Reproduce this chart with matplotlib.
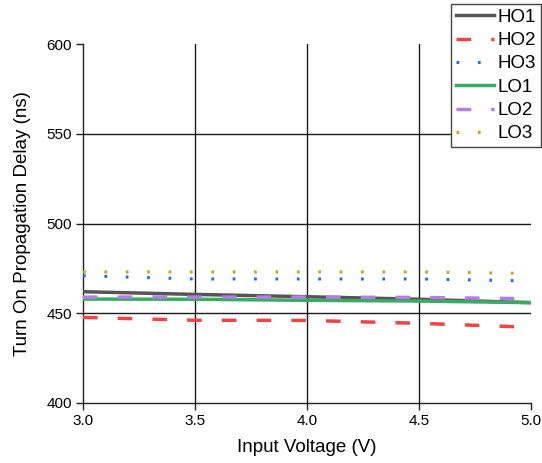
import matplotlib
matplotlib.use('Agg')
import matplotlib.pyplot as plt

plt.rcParams['font.family'] = ['Liberation Sans', 'DejaVu Sans']

# input voltage (V)
voltage = [3.0, 3.5, 4.0, 4.5, 5.0]

# turn on propagation delay (ns)
ho1 = [462.0, 460.5, 459.2, 457.8, 455.9]
ho2 = [447.7, 446.1, 446.0, 444.4, 442.2]
ho3 = [470.9, 469.1, 469.1, 469.1, 468.0]
lo1 = [457.9, 457.8, 457.2, 456.8, 455.9]
lo2 = [459.0, 459.0, 459.0, 458.8, 458.1]
lo3 = [473.0, 473.0, 473.0, 473.0, 472.2]

x_ticks = [3.0, 3.5, 4.0, 4.5, 5.0]
y_ticks = [400, 450, 500, 550, 600]

fig = plt.figure(figsize=(5.42, 4.63), dpi=100)
ax = fig.add_axes([83 / 542, 1 - 403 / 463, 448 / 542, 359 / 463])

# grid lines (inner only)
for xv in x_ticks[1:-1]:
    ax.axvline(xv, color='#1a1a1a', lw=1.0, zorder=1)
for yv in y_ticks[1:-1]:
    ax.axhline(yv, color='#1a1a1a', lw=1.0, zorder=1)

lw = 2.5
ax.plot(voltage, ho1, color='#555555', lw=lw, label='HO1', zorder=3)
ax.plot(voltage, ho2, color='#ee4444', lw=lw, dashes=(4.2, 5.8), label='HO2', zorder=3)
ax.plot(voltage, ho3, color='#1f6fe0', lw=2.2, dashes=(0.9, 6.1), label='HO3', zorder=3)
ax.plot(voltage, lo1, color='#3aaa64', lw=lw, label='LO1', zorder=3)
ax.plot(voltage, lo2, color='#b47ee6', lw=lw, dashes=(4.2, 5.8), label='LO2', zorder=3)
ax.plot(voltage, lo3, color='#d4a012', lw=2.2, dashes=(0.9, 6.1), label='LO3', zorder=3)

ax.set_xlim(3.0, 5.0)
ax.set_ylim(400, 600)
ax.set_xticks(x_ticks)
ax.set_xticklabels(['3.0', '3.5', '4.0', '4.5', '5.0'])
ax.set_yticks(y_ticks)
ax.tick_params(direction='out', length=5, width=1, labelsize=11, pad=3, color='#222222')

for s in ['top', 'right']:
    ax.spines[s].set_visible(False)
for s in ['left', 'bottom']:
    ax.spines[s].set_color('#222222')
    ax.spines[s].set_linewidth(1.0)

ax.set_xlabel('Input Voltage (V)', fontsize=13.5, labelpad=8)
ax.set_ylabel('Turn On Propagation Delay (ns)', fontsize=13.5, labelpad=11)

leg = ax.legend(loc='upper right', bbox_to_anchor=(541 / 542, 1 - 4 / 463),
                bbox_transform=fig.transFigure, fontsize=13.5, frameon=True,
                fancybox=False, edgecolor='#444444', framealpha=1.0,
                handlelength=2.05, handletextpad=0.2, labelspacing=0.33,
                borderpad=0.25, borderaxespad=0)
leg.get_frame().set_linewidth(1.0)
leg.set_zorder(5)

fig.savefig('out.png', dpi=100)
